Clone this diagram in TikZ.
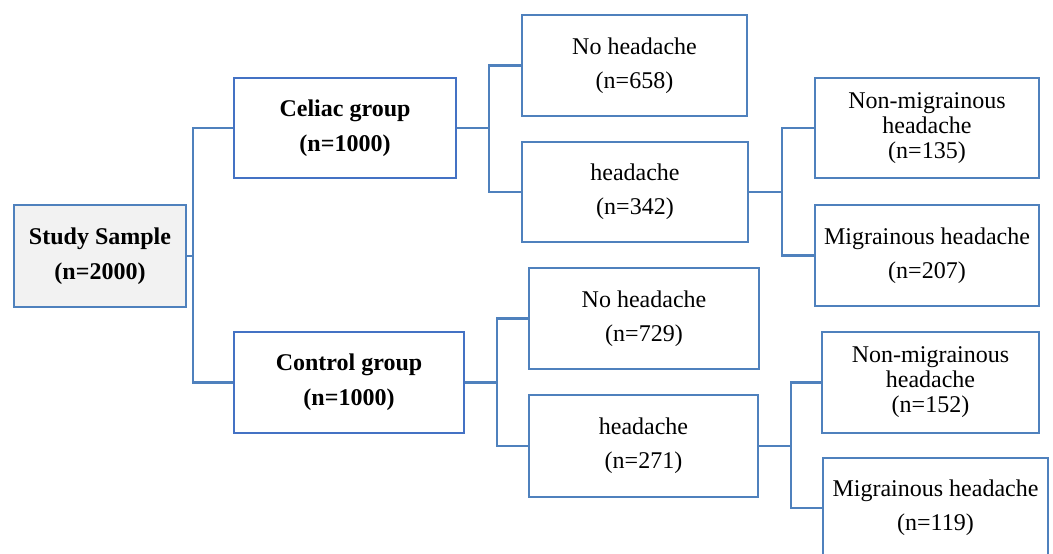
\documentclass[tikz,border=0pt]{standalone}
\usepackage{fontspec}
\setmainfont{Liberation Serif}
\definecolor{bBlue}{HTML}{4F81BD}
\definecolor{gBlue}{HTML}{4472C4}
\definecolor{sGrey}{HTML}{F2F2F2}

\begin{document}
\begin{tikzpicture}[yscale=-1,x=1pt,y=1pt]
		\tikzstyle{BOX} = [line width=2.9pt, inner sep=0pt, align=center, font=\fontsize{24}{34}\selectfont]
		\tikzstyle{sample} = [BOX, draw=bBlue, fill=sGrey, font=\bfseries\fontsize{24}{35}\selectfont]
		\tikzstyle{group} = [BOX, draw=gBlue, fill=white, font=\bfseries\fontsize{24}{35}\selectfont]
		\tikzstyle{outcome} = [BOX, draw=bBlue, fill=white]
		\tikzstyle{subtype} = [BOX, draw=bBlue, fill=white, font=\fontsize{24}{25}\selectfont]
		\tikzstyle{link} = [line width=2.7pt, draw=bBlue]

		\useasboundingbox (0,0) rectangle (1053,554);
		\clip (0,0) rectangle (1053,554);

		\node[sample, minimum width=172, minimum height=102] (sample) at (100,256) {Study Sample\\(n=2000)};

		\node[group, minimum width=222, minimum height=100] (gOne) at (345,128) {Celiac group\\(n=1000)};
		\node[outcome, minimum width=225, minimum height=101] (noOne) at (634.5,65.5) {No headache\\(n=658)};
		\node[outcome, minimum width=226, minimum height=100] (haOne) at (635,192) {headache\\(n=342)};
		\node[subtype, minimum width=224, minimum height=100] (nmOne) at (927,128) {Non-migrainous\\headache\\(n=135)};
		\node[outcome, minimum width=224, minimum height=101] (mgOne) at (927,255.5) {Migrainous headache\\(n=207)};

		\node[group, minimum width=230, minimum height=101] (gTwo) at (349,382.5) {Control group\\(n=1000)};
		\node[outcome, minimum width=230, minimum height=101] (noTwo) at (644,318.5) {No headache\\(n=729)};
		\node[outcome, minimum width=229, minimum height=102] (haTwo) at (643.5,446) {headache\\(n=271)};
		\node[subtype, minimum width=217, minimum height=101] (nmTwo) at (930.5,382.5) {Non-migrainous\\headache\\(n=152)};
		\node[outcome, minimum width=225, minimum height=100] (mgTwo) at (935.5,508) {Migrainous headache\\(n=119)};

		% spines
		\coordinate (jSample) at (193,256);
		\coordinate (jOne) at (489,128);
		\coordinate (jHaOne) at (782,192);
		\coordinate (jTwo) at (497,382.5);
		\coordinate (jHaTwo) at (791,446);

		\draw[link] (sample.east) -- (jSample);
		\draw[link] (gOne.west) -| (jSample);
		\draw[link] (gTwo.west) -| (jSample);

		\draw[link] (gOne.east) -- (jOne);
		\draw[link] (noOne.west) -| (jOne);
		\draw[link] (haOne.west) -| (jOne);
		\draw[link] (haOne.east) -- (jHaOne);
		\draw[link] (nmOne.west) -| (jHaOne);
		\draw[link] (mgOne.west) -| (jHaOne);

		\draw[link] (gTwo.east) -- (jTwo);
		\draw[link] (noTwo.west) -| (jTwo);
		\draw[link] (haTwo.west) -| (jTwo);
		\draw[link] (haTwo.east) -- (jHaTwo);
		\draw[link] (nmTwo.west) -| (jHaTwo);
		\draw[link] (mgTwo.west) -| (jHaTwo);
\end{tikzpicture}
\end{document}
